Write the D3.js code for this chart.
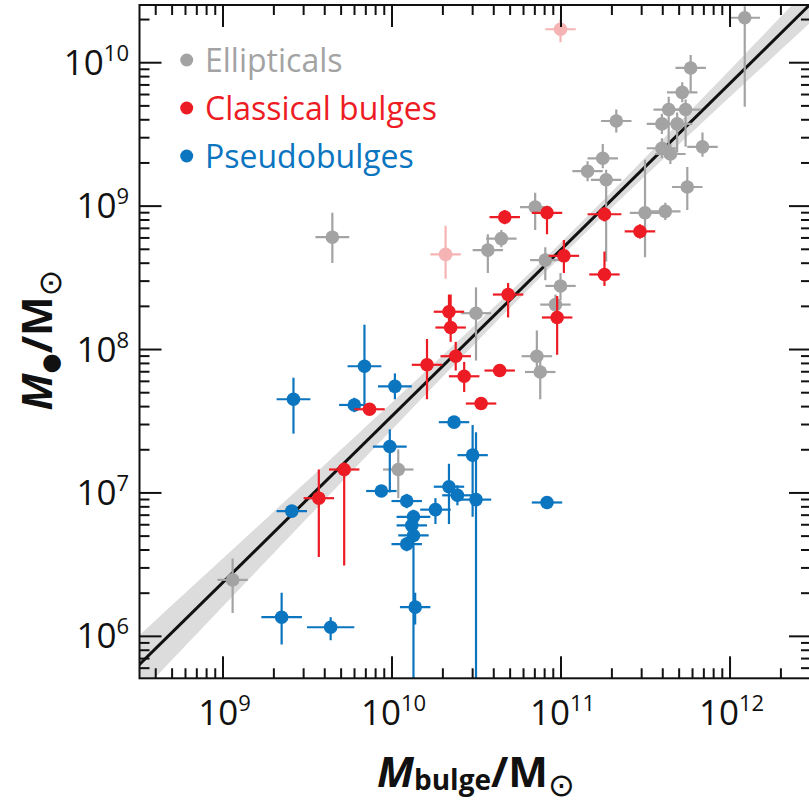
<!DOCTYPE html>
<html>
<head>
<meta charset="utf-8">
<script src="https://cdn.jsdelivr.net/npm/d3@7"></script>
<style>
  html, body { margin: 0; padding: 0; background: #fff; }
  svg { display: block; }
  text { font-family: "Open Sans", "DejaVu Sans", sans-serif; }
</style>
</head>
<body>
<svg id="chart" width="809" height="804"></svg>
<script>
// Each row: [log10 M_bulge, log10 M_BH, x error (dex), y error below (dex), y error above (dex)]
const ellipticals = [
  [12.09, 10.31, 0.09, 0.62, 0.08],
  [11.77, 9.96, 0.09, 0.17, 0.09],
  [11.72, 9.79, 0.09, 0.07, 0.07],
  [11.64, 9.67, 0.09, 0.30, 0.09],
  [11.74, 9.67, 0.09, 0.26, 0.07],
  [11.60, 9.57, 0.09, 0.07, 0.07],
  [11.69, 9.57, 0.09, 0.20, 0.08],
  [11.33, 9.59, 0.09, 0.08, 0.08],
  [11.60, 9.40, 0.09, 0.07, 0.07],
  [11.65, 9.36, 0.09, 0.07, 0.07],
  [11.84, 9.41, 0.09, 0.07, 0.10],
  [11.25, 9.33, 0.09, 0.07, 0.10],
  [11.16, 9.24, 0.09, 0.07, 0.07],
  [11.27, 9.18, 0.09, 0.57, 0.07],
  [11.75, 9.13, 0.09, 0.16, 0.14],
  [11.50, 8.95, 0.09, 0.31, 0.37],
  [11.62, 8.96, 0.09, 0.06, 0.06],
  [10.85, 8.99, 0.09, 0.16, 0.10],
  [10.65, 8.77, 0.09, 0.06, 0.06],
  [10.57, 8.69, 0.09, 0.16, 0.11],
  [10.91, 8.62, 0.09, 0.14, 0.09],
  [11.00, 8.44, 0.09, 0.10, 0.09],
  [10.97, 8.31, 0.09, 0.08, 0.07],
  [10.50, 8.25, 0.09, 0.33, 0.18],
  [10.86, 7.95, 0.09, 0.08, 0.18],
  [10.88, 7.84, 0.09, 0.19, 0.10],
  [10.04, 7.16, 0.09, 0.20, 0.14],
  [9.65, 8.78, 0.10, 0.18, 0.17],
  [9.06, 6.39, 0.09, 0.23, 0.15]
];

// Objects left out of the fit
const omitted = [
  [11.00, 10.23, 0.09, 0.09, 0.07],
  [10.32, 8.66, 0.09, 0.17, 0.20]
];

const classicalBulges = [
  [10.67, 8.92, 0.09, 0.05, 0.05],
  [10.92, 8.95, 0.09, 0.15, 0.05],
  [11.26, 8.94, 0.10, 0.05, 0.05],
  [11.47, 8.82, 0.09, 0.05, 0.05],
  [11.02, 8.65, 0.09, 0.12, 0.11],
  [11.26, 8.52, 0.09, 0.08, 0.16],
  [10.69, 8.38, 0.09, 0.16, 0.08],
  [10.98, 8.22, 0.09, 0.26, 0.15],
  [10.34, 8.26, 0.09, 0.07, 0.12],
  [10.35, 8.15, 0.09, 0.10, 0.23],
  [10.38, 7.95, 0.09, 0.10, 0.10],
  [10.21, 7.89, 0.09, 0.24, 0.18],
  [10.43, 7.81, 0.09, 0.11, 0.10],
  [10.64, 7.85, 0.09, 0.04, 0.04],
  [10.53, 7.62, 0.09, 0.04, 0.04],
  [9.87, 7.58, 0.09, 0.04, 0.04],
  [9.72, 7.16, 0.09, 0.67, 0.05],
  [9.57, 6.96, 0.09, 0.41, 0.20]
];

const pseudobulges = [
  [9.42, 7.65, 0.10, 0.24, 0.15],
  [9.84, 7.88, 0.10, 0.28, 0.29],
  [10.02, 7.74, 0.10, 0.09, 0.09],
  [9.78, 7.61, 0.09, 0.05, 0.05],
  [10.37, 7.49, 0.09, 0.04, 0.04],
  [9.99, 7.32, 0.10, 0.32, 0.12],
  [10.48, 7.26, 0.09, 0.43, 0.21],
  [10.50, 6.95, 0.09, 2.00, 0.47],
  [9.94, 7.01, 0.09, 0.04, 0.04],
  [10.09, 6.94, 0.09, 0.05, 0.05],
  [10.34, 7.04, 0.09, 0.26, 0.16],
  [10.39, 6.98, 0.09, 0.07, 0.07],
  [10.26, 6.88, 0.09, 0.10, 0.08],
  [10.13, 6.83, 0.10, 0.05, 0.05],
  [10.12, 6.77, 0.09, 0.05, 0.05],
  [10.13, 6.70, 0.09, 2.00, 0.05],
  [10.09, 6.64, 0.09, 0.05, 0.05],
  [10.14, 6.20, 0.09, 0.12, 0.10],
  [10.92, 6.93, 0.09, 0.04, 0.04],
  [9.41, 6.87, 0.09, 0.04, 0.04],
  [9.35, 6.13, 0.12, 0.19, 0.17],
  [9.64, 6.06, 0.14, 0.09, 0.07]
];

// Fit: M_BH / 1e9 = 0.49 (M_bulge / 1e11)^1.16, with uncertainties
const fitIntercept = 8.69, fitSlope = 1.16, fitPivot = 11;
const interceptErr = 0.05, slopeErr = 0.08;

const xTickExponents = [9, 10, 11, 12];
const yTickExponents = [6, 7, 8, 9, 10];

const legendItems = [
  { label: "Ellipticals", color: "#a3a3a3" },
  { label: "Classical bulges", color: "#ed1c24" },
  { label: "Pseudobulges", color: "#0b75bf" }
];

const colors = { ell: "#a3a3a3", cls: "#ed1c24", psd: "#0b75bf", omit: "#f6b3b4" };

const svg = d3.select("#chart");
const plotL = 139.5, plotR = 811, plotT = 5, plotB = 678.3;

const x = d3.scaleLog().domain([Math.pow(10, 8.509), Math.pow(10, 12.482)]).range([plotL, plotR]);
const y = d3.scaleLog().domain([Math.pow(10, 5.704), Math.pow(10, 10.399)]).range([plotB, plotT]);
const p10 = v => Math.pow(10, v);

svg.append("rect").attr("width", 809).attr("height", 804).attr("fill", "#fff");

svg.append("clipPath").attr("id", "plotClip")
  .append("rect").attr("x", plotL).attr("y", plotT).attr("width", plotR - plotL).attr("height", plotB - plotT);

const plot = svg.append("g").attr("clip-path", "url(#plotClip)");

// uncertainty band around the fit
const bandX = d3.range(8.2, 12.81, 0.05);
const fitAt = lx => fitIntercept + fitSlope * (lx - fitPivot);
const sig = lx => Math.sqrt(interceptErr * interceptErr + Math.pow(slopeErr * (lx - fitPivot), 2));
plot.append("path")
  .datum(bandX)
  .attr("fill", "#dcdcdc")
  .attr("d", d3.area()
    .x(d => x(p10(d)))
    .y0(d => y(p10(fitAt(d) - sig(d))))
    .y1(d => y(p10(fitAt(d) + sig(d)))));

plot.append("line")
  .attr("x1", x(p10(8.2))).attr("y1", y(p10(fitAt(8.2))))
  .attr("x2", x(p10(12.8))).attr("y2", y(p10(fitAt(12.8))))
  .attr("stroke", "#111").attr("stroke-width", 3);

function drawGroup(data, color) {
  const g = plot.append("g");
  const pts = g.selectAll("g").data(data).enter().append("g");
  pts.append("line")
    .attr("x1", d => x(p10(d[0] - d[2]))).attr("x2", d => x(p10(d[0] + d[2])))
    .attr("y1", d => y(p10(d[1]))).attr("y2", d => y(p10(d[1])))
    .attr("stroke", color).attr("stroke-width", 2.2);
  pts.append("line")
    .attr("x1", d => x(p10(d[0]))).attr("x2", d => x(p10(d[0])))
    .attr("y1", d => y(p10(d[1] - d[3]))).attr("y2", d => y(p10(d[1] + d[4])))
    .attr("stroke", color).attr("stroke-width", 2.2);
  pts.append("circle")
    .attr("cx", d => x(p10(d[0]))).attr("cy", d => y(p10(d[1])))
    .attr("r", 6.8).attr("fill", color);
}

drawGroup(ellipticals, colors.ell);
drawGroup(omitted, colors.omit);
drawGroup(pseudobulges, colors.psd);
drawGroup(classicalBulges, colors.cls);

// ticks on all four sides, pointing inward
const xMajor = xTickExponents.map(p10);
const yMajor = yTickExponents.map(p10);
const isDecade = v => Math.abs(Math.log10(v) - Math.round(Math.log10(v))) < 1e-6;
const xMinor = x.ticks(40).filter(v => !isDecade(v));
const yMinor = y.ticks(40).filter(v => !isDecade(v));

function tickAxis(axisFn, scale, values, size, transform) {
  const g = svg.append("g").attr("transform", transform)
    .call(axisFn(scale).tickValues(values).tickSize(size).tickFormat(""));
  g.select(".domain").remove();
  g.selectAll(".tick line").attr("stroke", "#111").attr("stroke-width", 2);
}
tickAxis(d3.axisBottom, x, xMinor, -10, `translate(0,${plotB})`);
tickAxis(d3.axisBottom, x, xMajor, -22, `translate(0,${plotB})`);
tickAxis(d3.axisTop, x, xMinor, -10, `translate(0,${plotT})`);
tickAxis(d3.axisTop, x, xMajor, -22, `translate(0,${plotT})`);
tickAxis(d3.axisLeft, y, yMinor, -10, `translate(${plotL},0)`);
tickAxis(d3.axisLeft, y, yMajor, -22, `translate(${plotL},0)`);
tickAxis(d3.axisRight, y, yMinor, -10, `translate(${plotR},0)`);
tickAxis(d3.axisRight, y, yMajor, -22, `translate(${plotR},0)`);

svg.append("rect")
  .attr("x", plotL).attr("y", plotT).attr("width", plotR - plotL).attr("height", plotB - plotT)
  .attr("fill", "none").attr("stroke", "#111").attr("stroke-width", 2);

// tick labels
xTickExponents.forEach(e => {
  const t = svg.append("text")
    .attr("x", x(p10(e)) + 2).attr("y", 725)
    .attr("text-anchor", "middle").attr("font-size", 35).attr("fill", "#111");
  t.append("tspan").text("10");
  t.append("tspan").attr("font-size", 22).attr("dy", -14).text(e);
});
yTickExponents.forEach(e => {
  const t = svg.append("text")
    .attr("x", 129).attr("y", y(p10(e)) + 12.5)
    .attr("text-anchor", "end").attr("font-size", 35).attr("fill", "#111");
  t.append("tspan").text("10");
  t.append("tspan").attr("font-size", 22).attr("dy", -14).text(e);
});

// axis titles
const xt = svg.append("text").attr("x", 377).attr("y", 787).attr("fill", "#111").attr("font-weight", 700);
xt.append("tspan").attr("font-size", 42).attr("font-style", "italic").text("M");
xt.append("tspan").attr("font-size", 28).attr("dy", 3).text("bulge");
xt.append("tspan").attr("font-size", 42).attr("dy", -3).text("/M");
xt.append("tspan").attr("font-size", 32).attr("dy", 9).attr("font-weight", 400)
  .style("font-family", "DejaVu Sans").text("\u2299");

const yt = svg.append("text").attr("transform", "translate(52,340) rotate(-90)")
  .attr("text-anchor", "middle").attr("fill", "#111").attr("font-weight", 700);
yt.append("tspan").attr("font-size", 42).attr("font-style", "italic").text("M");
yt.append("tspan").attr("font-size", 23).attr("dy", 6).style("font-family", "DejaVu Sans").text("\u25CF");
yt.append("tspan").attr("font-size", 42).attr("dy", -6).text("/M");
yt.append("tspan").attr("font-size", 32).attr("dy", 9).attr("font-weight", 400)
  .style("font-family", "DejaVu Sans").text("\u2299");

// legend
const lg = svg.append("g");
legendItems.forEach((d, i) => {
  const cy = 60 + i * 48;
  lg.append("circle").attr("cx", 186.7).attr("cy", cy).attr("r", 6.5).attr("fill", d.color);
  lg.append("text").attr("x", 205).attr("y", cy + 11.5).attr("font-size", 32)
    .attr("fill", d.color).text(d.label);
});
</script>
</body>
</html>
